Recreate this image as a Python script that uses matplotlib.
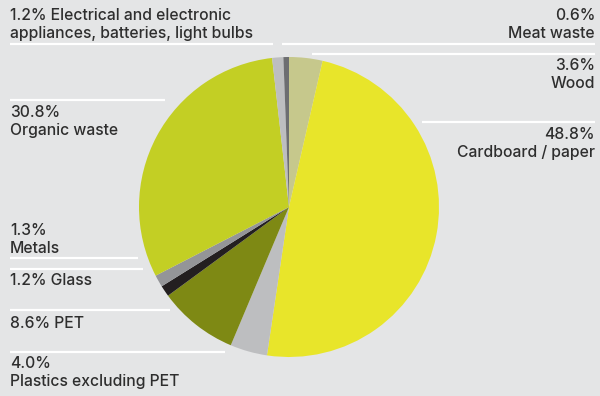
import matplotlib
matplotlib.use("Agg")
import matplotlib.pyplot as plt

# waste composition, clockwise from 12 o'clock
categories = ["Wood", "Cardboard/paper", "Plastics excluding PET", "PET", "Glass",
              "Metals", "Organic waste", "Electrical and electronic appliances", "Meat waste"]
shares = [3.6, 48.8, 4.0, 8.6, 1.2, 1.3, 30.8, 1.2, 0.6]
colors = ["#c6c88c", "#e8e52a", "#bdbec0", "#7e8914", "#231f20",
          "#949598", "#c3cf24", "#bdbec0", "#6d6e71"]

BG = "#e4e5e6"
INK = "#2e2e2e"
W, H = 600, 396

plt.rcParams["font.family"] = ["Inter", "DejaVu Sans"]

fig = plt.figure(figsize=(W / 100, H / 100), dpi=100, facecolor=BG)

# overlay axes in pixel coordinates for labels and rules
ax = fig.add_axes([0, 0, 1, 1])
ax.set_xlim(0, W)
ax.set_ylim(H, 0)
ax.set_facecolor(BG)
ax.axis("off")

# pie axes: centre (289, 207), radius 150 px
cx, cy, r = 289, 207, 150
pax = fig.add_axes([(cx - r) / W, (H - cy - r) / H, 2 * r / W, 2 * r / H])
pax.pie(shares, colors=colors, startangle=90, counterclock=False, radius=1,
        wedgeprops=dict(linewidth=0))
pax.set_xlim(-1, 1)
pax.set_ylim(-1, 1)
pax.set_aspect("auto")
pax.axis("off")

fs = 11.3

# separator rules (x0, x1, y)
rules = [
    (10, 273, 44), (282, 595, 44), (312, 595, 54), (422, 595, 122),
    (10, 165, 100), (10, 138, 258), (10, 143, 269), (10, 170, 310), (10, 225, 352),
]
for x0, x1, y in rules:
    ax.plot([x0, x1], [y, y], color="white", lw=1.6, solid_capstyle="butt")

left_labels = [
    (20, f"{shares[7]}% Electrical and electronic\nappliances, batteries, light bulbs"),
    (117, f"{shares[6]}%\nOrganic waste"),
    (235, f"{shares[5]}%\nMetals"),
    (285, f"{shares[4]}% Glass"),
    (328, f"{shares[3]}% PET"),
    (368, f"{shares[2]}%\nPlastics excluding PET"),
]
right_labels = [
    (20, f"{shares[8]}%\nMeat waste"),
    (70, f"{shares[0]}%\nWood"),
    (139, f"{shares[1]}%\nCardboard / paper"),
]

# first-line baseline y, then following lines ~18 px below
def put(x, y, txt, ha):
    for i, line in enumerate(txt.split("\n")):
        ax.text(x, y + i * 18, line, ha=ha, va="baseline", fontsize=fs,
                color=INK, fontweight="medium")

for y, txt in left_labels:
    put(10, y, txt, "left")
for y, txt in right_labels:
    put(595, y, txt, "right")

fig.savefig("out.png", dpi=100, facecolor=BG)
